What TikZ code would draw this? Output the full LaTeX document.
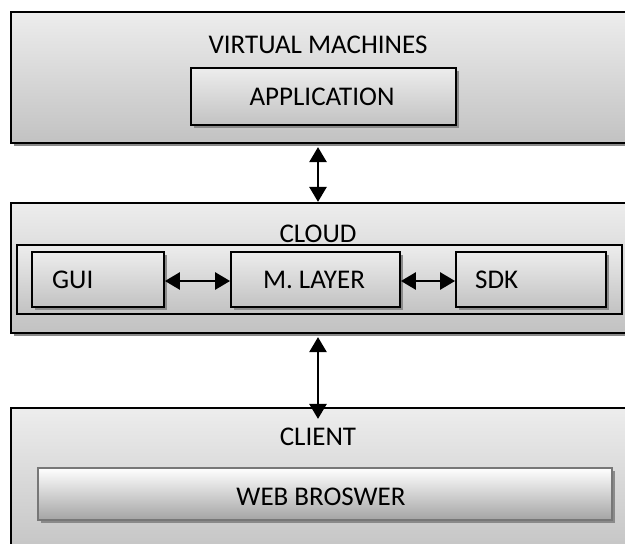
\documentclass[tikz,border=0pt]{standalone}
\usepackage{fontspec}
\setmainfont{Carlito}
\usetikzlibrary{shadows,arrows.meta}
\definecolor{boxtop}{HTML}{EDEDED}
\definecolor{boxbot}{HTML}{C2C2C2}
\definecolor{shadowgray}{HTML}{8A8A8A}
\definecolor{webborder}{HTML}{777777}
\definecolor{webbot}{HTML}{A4A4A4}
\tikzset{
  boxshadow/.style={drop shadow={shadow xshift=3pt, shadow yshift=-3pt, fill=shadowgray, opacity=1}},
  outerbox/.style={draw=black, line width=2.2pt, top color=boxtop, bottom color=boxbot, boxshadow, inner sep=0pt},
  innerbox/.style={draw=black, line width=1.8pt, top color=boxtop, bottom color=boxbot, boxshadow, inner sep=0pt},
  framebox/.style={draw=black, line width=1.8pt, top color=boxtop, bottom color=boxbot, inner sep=0pt},
  webbox/.style={draw=webborder, line width=2pt, top color=white, bottom color=webbot, boxshadow, inner sep=0pt},
  lbl/.style={font=\fontsize{27}{30}\selectfont, inner sep=0pt, text=black},
  biarrow/.style={line width=2.6pt, {Triangle[width=17pt 0,length=15pt 0]}-{Triangle[width=17pt 0,length=15pt 0]}},
}
\begin{document}
\begin{tikzpicture}[x=1pt,y=-1pt]
\useasboundingbox[fill=white] (0,0) rectangle (625,544);
% Virtual machines
\node[outerbox, minimum width=629pt, minimum height=131pt] (vm) at (325.5,77.5) {};
\node[lbl] (vmt) at (318,45) {VIRTUAL MACHINES};
\node[innerbox, minimum width=265pt, minimum height=57pt] (app) at (323.5,96.5) {};
\node[lbl] (appt) at (322,97) {APPLICATION};
% Cloud
\node[outerbox, minimum width=629pt, minimum height=130pt] (cloud) at (325.5,268) {};
\node[lbl] (cloudt) at (318,234) {CLOUD};
\node[framebox, minimum width=605pt, minimum height=69pt] (frame) at (319.5,279.5) {};
\node[innerbox, minimum width=132pt, minimum height=55pt] (gui) at (98,279.5) {};
\node[lbl, anchor=west] (guit) at (52,280) {GUI};
\node[innerbox, minimum width=169pt, minimum height=55pt] (ml) at (315.5,279.5) {};
\node[lbl] (mlt) at (314,280) {M. LAYER};
\node[innerbox, minimum width=150pt, minimum height=55pt] (sdk) at (531,279.5) {};
\node[lbl, anchor=west] (sdkt) at (475,280) {SDK};
% Client
\node[outerbox, minimum width=629pt, minimum height=152pt] (client) at (325.5,484) {};
\node[lbl] (clientt) at (318,437) {CLIENT};
\node[webbox, minimum width=574pt, minimum height=52pt] (web) at (325,494) {};
\node[lbl] (webt) at (321,497) {WEB BROSWER};
% arrows
\coordinate (a1s) at ([yshift=-3pt]vmt |- vm.south);
\coordinate (a1e) at (vmt |- cloud.north);
\draw[biarrow] (a1s) -- (a1e);
\coordinate (a2s) at ([yshift=-3pt]vmt |- cloud.south);
\coordinate (a2e) at ([yshift=-12pt]vmt |- client.north);
\draw[biarrow] (a2s) -- (a2e);
\draw[biarrow] ([yshift=-1.5pt]gui.east) -- ([yshift=-1.5pt]ml.west);
\draw[biarrow] ([yshift=-1.5pt]ml.east) -- ([yshift=-1.5pt]sdk.west);
\end{tikzpicture}
\end{document}
